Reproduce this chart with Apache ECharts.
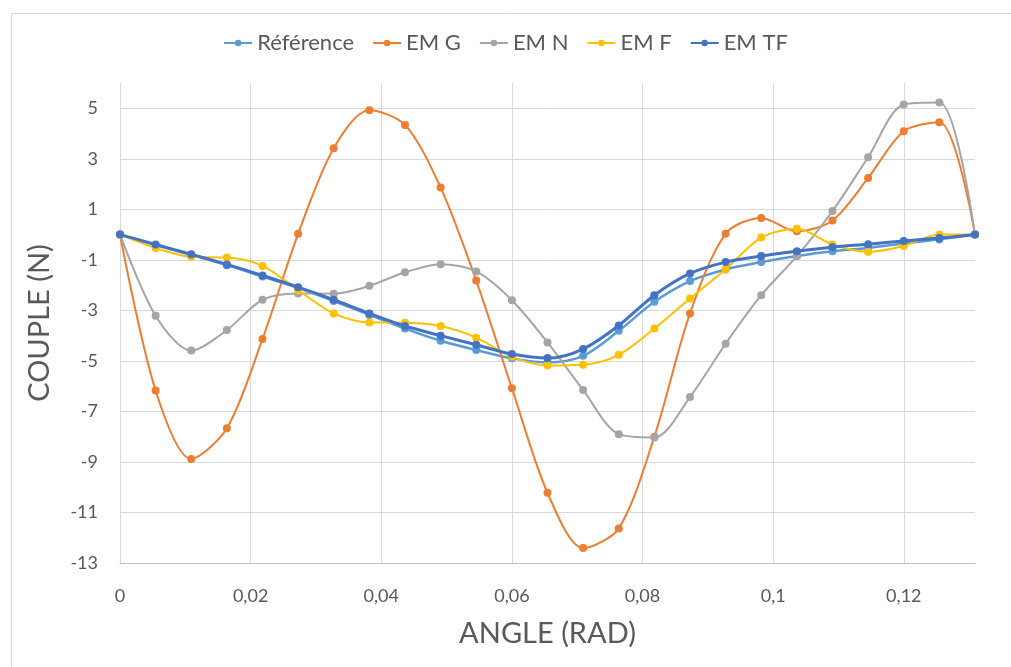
<!DOCTYPE html>
<html>
<head>
<meta charset="utf-8">
<script src="https://cdn.jsdelivr.net/npm/echarts@6/dist/echarts.min.js"></script>
<style>
html,body{margin:0;padding:0;background:#fff;}
#main{width:1011px;height:667px;}
</style>
</head>
<body>
<div id="main"></div>
<script>
const angles = [0, 0.00545, 0.01091, 0.01636, 0.02182, 0.02727, 0.03272, 0.03818, 0.04363, 0.04909, 0.05454, 0.06, 0.06545, 0.0709, 0.07636, 0.08181, 0.08727, 0.09272, 0.09817, 0.10363, 0.10908, 0.11454, 0.11999, 0.12544, 0.1309];
const reference = [0, -0.41, -0.81, -1.21, -1.66, -2.11, -2.63, -3.18, -3.72, -4.2, -4.57, -4.9, -5.06, -4.8, -3.81, -2.66, -1.84, -1.38, -1.09, -0.85, -0.66, -0.53, -0.35, -0.19, 0];
const emG = [0, -6.17, -8.88, -7.67, -4.13, 0.03, 3.42, 4.92, 4.34, 1.86, -1.82, -6.08, -10.22, -12.41, -11.63, -8.0, -3.12, 0.03, 0.66, 0.13, 0.56, 2.24, 4.09, 4.45, 0];
const emN = [0, -3.21, -4.59, -3.78, -2.58, -2.33, -2.34, -2.03, -1.49, -1.17, -1.46, -2.6, -4.27, -6.15, -7.9, -8.03, -6.43, -4.32, -2.4, -0.85, 0.93, 3.06, 5.15, 5.23, 0];
const emF = [0, -0.53, -0.88, -0.91, -1.24, -2.2, -3.12, -3.48, -3.49, -3.62, -4.08, -4.84, -5.18, -5.15, -4.76, -3.72, -2.53, -1.37, -0.12, 0.23, -0.39, -0.68, -0.45, 0.0, 0];
const emTF = [0, -0.39, -0.78, -1.18, -1.62, -2.08, -2.58, -3.12, -3.62, -4.0, -4.36, -4.73, -4.89, -4.53, -3.6, -2.4, -1.54, -1.09, -0.85, -0.66, -0.5, -0.38, -0.25, -0.14, 0];
const seriesNames = ['Référence', 'EM G', 'EM N', 'EM F', 'EM TF'];
const seriesColors = ['#5B9BD5', '#ED7D31', '#A5A5A5', '#FFC000', '#4472C4'];
const seriesWidths = [2.5, 2, 2, 2, 3];
const seriesValues = [reference, emG, emN, emF, emTF];

const FONT = 'Lato';
const TXT = '#595959';

const chart = echarts.init(document.getElementById('main'));
chart.setOption({
  animation: false,
  backgroundColor: '#fff',
  textStyle: { fontFamily: FONT, color: TXT },
  graphic: [{
    type: 'rect', left: 9, top: 11, silent: true,
    shape: { width: 1100, height: 700 },
    style: { fill: 'none', stroke: '#d9d9d9', lineWidth: 1 }
  }],
  legend: {
    top: 27, left: 'center',
    itemWidth: 28, itemHeight: 8, itemGap: 18,
    textStyle: { fontFamily: FONT, fontSize: 22, color: TXT },
    data: seriesNames
  },
  grid: { left: 120, right: 36, top: 83, bottom: 104 },
  xAxis: {
    type: 'value', min: 0, max: 0.1309, interval: 0.02,
    name: 'ANGLE (RAD)', nameLocation: 'middle', nameGap: 56,
    nameTextStyle: { fontFamily: FONT, fontSize: 29, color: TXT },
    axisLine: { show: true, onZero: false, lineStyle: { color: '#bfbfbf', width: 1 } },
    axisTick: { show: false },
    splitLine: { show: true, showMaxLine: false, lineStyle: { color: '#d9d9d9', width: 1 } },
    axisLabel: {
      fontFamily: FONT, fontSize: 18, color: TXT, margin: 24, showMaxLabel: false,
      formatter: function (v) {
        const k = Math.round(v / 0.02);
        if (Math.abs(v - k * 0.02) > 1e-7) return '';
        return String(+(k * 0.02).toFixed(2)).replace('.', ',');
      }
    }
  },
  yAxis: {
    type: 'value', min: -13, max: 6, interval: 2,
    name: 'COUPLE (N)', nameLocation: 'middle', nameGap: 66, nameRotate: 90,
    nameTextStyle: { fontFamily: FONT, fontSize: 29, color: TXT },
    axisLine: { show: false },
    axisTick: { show: false },
    splitLine: { show: true, showMaxLine: false, lineStyle: { color: '#d9d9d9', width: 1 } },
    axisLabel: {
      fontFamily: FONT, fontSize: 18, color: TXT, margin: 22, showMaxLabel: false,
      formatter: function (v) { return v === 6 ? '' : String(v); }
    }
  },
  series: seriesNames.map(function (name, s) {
    return {
      name: name, type: 'line', smooth: 0.3,
      symbol: 'circle', symbolSize: 8,
      color: seriesColors[s],
      lineStyle: { width: seriesWidths[s], color: seriesColors[s] },
      itemStyle: { color: seriesColors[s] },
      z: 2 + s,
      data: angles.map(function (a, i) { return [a, seriesValues[s][i]]; })
    };
  })
});
</script>
</body>
</html>
